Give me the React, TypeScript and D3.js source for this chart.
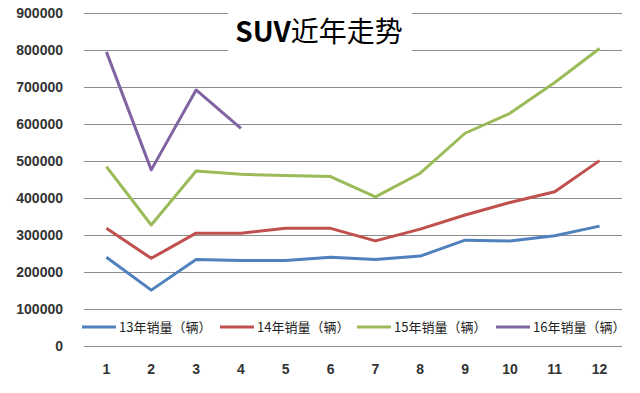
import * as d3 from "d3";
import React, { useCallback } from "react";

const months = ["1", "2", "3", "4", "5", "6", "7", "8", "9", "10", "11", "12"];
const yTicks = [0, 100000, 200000, 300000, 400000, 500000, 600000, 700000, 800000, 900000];

const sales13 = [240000, 151000, 234000, 231000, 231000, 240000, 234000, 243000, 286000, 284000, 298000, 324000];
const sales14 = [318000, 237000, 305000, 305000, 318000, 318000, 284000, 316000, 354000, 388000, 417000, 501000];
const sales15 = [485000, 327000, 473000, 464000, 461000, 458000, 403000, 467000, 575000, 629000, 712000, 804000];
const sales16 = [795000, 476000, 692000, 588000];

const seriesNames = ["13年销量（辆）", "14年销量（辆）", "15年销量（辆）", "16年销量（辆）"];
const colors = ["#4F81BD", "#C0504D", "#9BBB59", "#8064A2"];

function drawChart(node: SVGSVGElement | null) {
  if (!node) return;
  const svg = d3.select(node);
  svg.selectAll("*").remove();

  const width = 640,
    height = 393;
  const left = 84,
    right = 622,
    top = 13,
    bottom = 346;

  const x = d3.scaleBand().domain(months).range([left, right]);
  const y = d3.scaleLinear().domain([0, 900000]).range([bottom, top]);

  svg.attr("width", width).attr("height", height);
  svg.append("rect").attr("width", width).attr("height", height).attr("fill", "#fff");

  // gridlines
  svg
    .append("g")
    .selectAll("line")
    .data(yTicks)
    .join("line")
    .attr("x1", left)
    .attr("x2", right)
    .attr("y1", d => Math.round(y(d)) + 0.5)
    .attr("y2", d => Math.round(y(d)) + 0.5)
    .attr("stroke", "#8c8c8c")
    .attr("stroke-width", 1);

  // y labels
  svg
    .append("g")
    .selectAll("text")
    .data(yTicks)
    .join("text")
    .attr("x", 63)
    .attr("y", d => y(d))
    .attr("dy", "0.35em")
    .attr("text-anchor", "end")
    .attr("font-family", "Liberation Sans, Arial, sans-serif")
    .attr("font-weight", "bold")
    .attr("font-size", 14)
    .attr("fill", "#333")
    .text(d => d);

  // x labels
  svg
    .append("g")
    .selectAll("text")
    .data(months)
    .join("text")
    .attr("x", d => x(d)! + x.bandwidth() / 2)
    .attr("y", 369)
    .attr("dy", "0.35em")
    .attr("text-anchor", "middle")
    .attr("font-family", "Liberation Sans, Arial, sans-serif")
    .attr("font-weight", "bold")
    .attr("font-size", 14)
    .attr("fill", "#333")
    .text(d => d);

  const all = [sales13, sales14, sales15, sales16];
  const line = d3
    .line<number>()
    .x((_, i) => x(months[i])! + x.bandwidth() / 2)
    .y(d => y(d));

  svg
    .append("g")
    .selectAll("path")
    .data(all)
    .join("path")
    .attr("d", d => line(d))
    .attr("fill", "none")
    .attr("stroke", (_, i) => colors[i])
    .attr("stroke-width", 3)
    .attr("stroke-linejoin", "round");

  // legend
  const legendX = [82, 220, 357, 496];
  const lg = svg.append("g");
  lg.append("rect").attr("x", 78).attr("y", 316).attr("width", 548).attr("height", 22).attr("fill", "#fff");
  const items = lg
    .selectAll("g")
    .data(seriesNames)
    .join("g")
    .attr("transform", (_, i) => `translate(${legendX[i]},327)`);
  items
    .append("line")
    .attr("x1", 0)
    .attr("x2", 34)
    .attr("stroke", (_, i) => colors[i])
    .attr("stroke-width", 3);
  items
    .append("text")
    .attr("x", 37)
    .attr("dy", "0.35em")
    .attr("font-family", "Noto Sans CJK SC, sans-serif")
    .attr("font-size", 13)
    .attr("fill", "#222")
    .text(d => d);

  // title
  svg.append("rect").attr("x", 228).attr("y", 4).attr("width", 184).attr("height", 56).attr("fill", "#fff");
  const title = svg
    .append("text")
    .attr("x", 319)
    .attr("y", 32)
    .attr("dy", "0.35em")
    .attr("text-anchor", "middle")
    .attr("font-family", "Noto Sans CJK SC, sans-serif")
    .attr("font-size", 28)
    .attr("fill", "#000");
  title.append("tspan").attr("font-weight", "bold").text("SUV");
  title.append("tspan").text("近年走势");
}

export default function App() {
  const svg = useCallback((node: SVGSVGElement | null) => {
    drawChart(node);
  }, []);
  return (
    <div style={{ position: "absolute", left: 0, top: 0 }}>
      <svg ref={svg} />
    </div>
  );
}
